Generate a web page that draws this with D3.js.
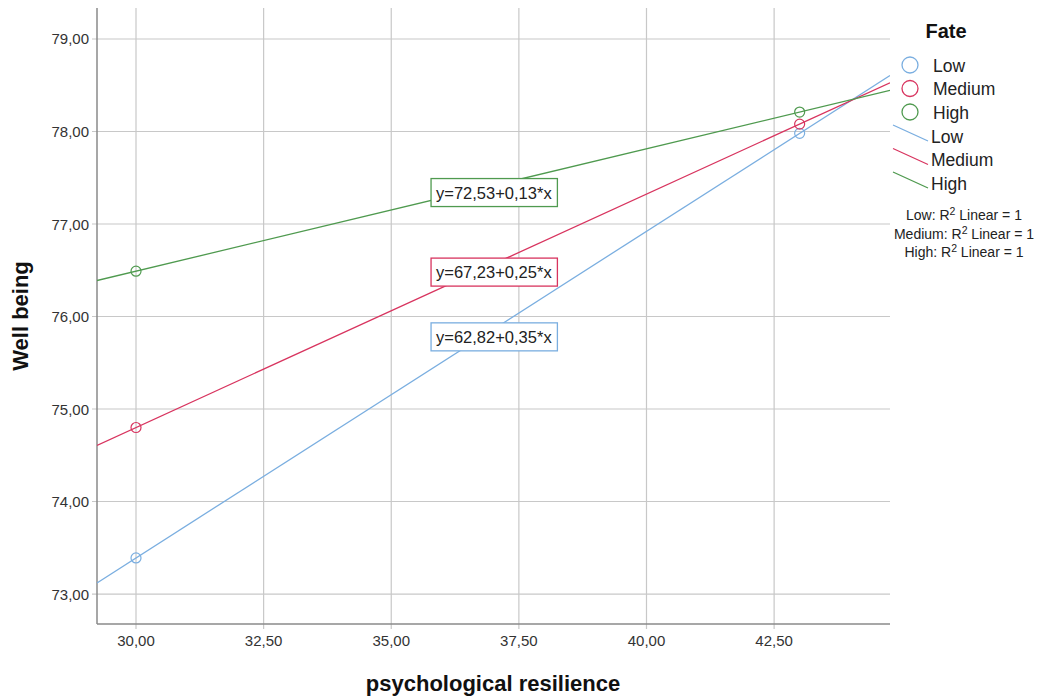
<!DOCTYPE html>
<html><head><meta charset="utf-8">
<script src="https://cdn.jsdelivr.net/npm/d3@7"></script>
<style>
body{margin:0;background:#fff;}
text{font-family:"Liberation Sans",Arial,sans-serif;}
</style></head>
<body><svg id="c" width="1039" height="696"></svg>
<script>
const groups = ["Low","Medium","High"];
const colors = ["#7aaee0","#d8345f","#4f9a4f"];
const xValues = [30, 43];
const lowValues = [73.39, 77.98];
const mediumValues = [74.80, 78.08];
const highValues = [76.49, 78.21];
const equations = ["y=62,82+0,35*x","y=67,23+0,25*x","y=72,53+0,13*x"];
const eqAnchorX = [37.01, 37.01, 37.01];
const eqAnchorY = [75.78, 76.48, 77.34];
const xTicks = [30, 32.5, 35, 37.5, 40, 42.5];
const yTicks = [73, 74, 75, 76, 77, 78, 79];
const r2Labels = ["Low: R\u00b2 Linear = 1","Medium: R\u00b2 Linear = 1","High: R\u00b2 Linear = 1"];

const series = [lowValues, mediumValues, highValues];
const svg = d3.select("#c");
const L=97, R=890, T=8, B=624;
const x = d3.scaleLinear().domain([29.236, 44.77]).range([L, R]);
const y = d3.scaleLinear().domain([72.676, 79.335]).range([B, T]);
const fmt = v => d3.format(".2f")(v).replace(".", ",");

// grid
svg.append("g").selectAll("line").data(xTicks).join("line")
  .attr("x1", d=>x(d)).attr("x2", d=>x(d)).attr("y1", T).attr("y2", B+5)
  .attr("stroke","#c8c8c8").attr("stroke-width",1.2);
svg.append("g").selectAll("line").data(yTicks).join("line")
  .attr("y1", d=>y(d)).attr("y2", d=>y(d)).attr("x1", L-5).attr("x2", R)
  .attr("stroke","#c8c8c8").attr("stroke-width",1.2);
// axes lines
svg.append("line").attr("x1",L).attr("x2",L).attr("y1",T).attr("y2",B).attr("stroke","#8a8a8a").attr("stroke-width",1.5);
svg.append("line").attr("x1",L).attr("x2",R).attr("y1",B).attr("y2",B).attr("stroke","#8a8a8a").attr("stroke-width",1.5);
// tick labels
svg.append("g").selectAll("text").data(xTicks).join("text")
  .attr("x", d=>x(d)).attr("y", B+22).attr("text-anchor","middle")
  .attr("font-size",15).attr("fill","#333").text(fmt);
svg.append("g").selectAll("text").data(yTicks).join("text")
  .attr("x", L-8).attr("y", d=>y(d)+5.5).attr("text-anchor","end")
  .attr("font-size",15).attr("fill","#333").text(fmt);
// axis titles
svg.append("text").attr("x", 493).attr("y", 691).attr("text-anchor","middle")
  .attr("font-size",22).attr("font-weight","bold").attr("fill","#111").text("psychological resilience");
svg.append("text").attr("transform","translate(28,316) rotate(-90)").attr("text-anchor","middle")
  .attr("font-size",22).attr("font-weight","bold").attr("fill","#111").text("Well being");

// fit lines
svg.append("clipPath").attr("id","pc").append("rect").attr("x",L).attr("y",T).attr("width",R-L).attr("height",B-T);
const [x0,x1] = x.domain();
series.forEach((vals,i)=>{
  const slope = (vals[1]-vals[0])/(xValues[1]-xValues[0]);
  const f = xv => vals[0] + slope*(xv - xValues[0]);
  svg.append("line").attr("clip-path","url(#pc)")
    .attr("x1", x(x0)).attr("y1", y(f(x0))).attr("x2", x(x1)).attr("y2", y(f(x1)))
    .attr("stroke", colors[i]).attr("stroke-width",1.3);
});
// points
series.forEach((vals,i)=>{
  svg.append("g").selectAll("circle").data(vals).join("circle")
    .attr("cx",(d,j)=>x(xValues[j])).attr("cy",d=>y(d)).attr("r",5)
    .attr("fill","none").attr("stroke",colors[i]).attr("stroke-width",1.2);
});
// equation labels
equations.forEach((eq,i)=>{
  const cx = x(eqAnchorX[i]), cy = y(eqAnchorY[i]);
  const g = svg.append("g");
  const t = g.append("text").attr("x",cx).attr("y",cy+6).attr("text-anchor","middle")
    .attr("font-size",16.5).attr("fill","#222").text(eq);
  const bb = t.node().getBBox();
  g.insert("rect","text").attr("x",bb.x-5).attr("y",cy-14).attr("width",bb.width+10).attr("height",28)
    .attr("fill","#fff").attr("stroke",colors[i]).attr("stroke-width",1.3);
});

// legend
svg.append("text").attr("x",946).attr("y",38).attr("text-anchor","middle")
  .attr("font-size",20).attr("font-weight","bold").attr("fill","#111").text("Fate");
groups.forEach((g,i)=>{
  const yy = 65 + i*23.5;
  svg.append("circle").attr("cx",910).attr("cy",yy).attr("r",8).attr("fill","none").attr("stroke",colors[i]).attr("stroke-width",1.3);
  svg.append("text").attr("x",933).attr("y",yy+6.5).attr("font-size",17.5).attr("fill","#222").text(g);
});
groups.forEach((g,i)=>{
  const yy = 136 + i*23.5;
  svg.append("line").attr("x1",893).attr("y1",yy-11).attr("x2",928).attr("y2",yy+5).attr("stroke",colors[i]).attr("stroke-width",1.3);
  svg.append("text").attr("x",931).attr("y",yy+6.5).attr("font-size",17.5).attr("fill","#222").text(g);
});
r2Labels.forEach((lab,i)=>{
  const parts = lab.split("\u00b2");
  const t = svg.append("text").attr("x",964).attr("y",220+i*18.5).attr("text-anchor","middle").attr("font-size",14).attr("fill","#222");
  t.append("tspan").text(parts[0]);
  t.append("tspan").attr("dy",-5).attr("font-size",10.5).text("2");
  t.append("tspan").attr("dy",5).text(parts[1]);
});
</script></body></html>
